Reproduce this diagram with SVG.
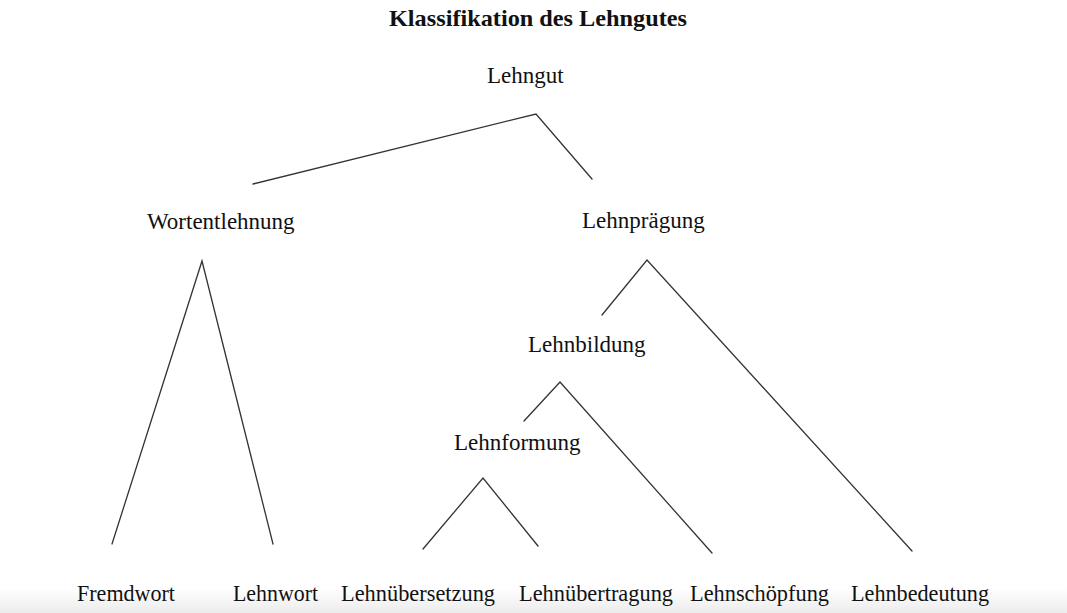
<svg xmlns="http://www.w3.org/2000/svg" width="1067" height="613" viewBox="0 0 1067 613">
<defs>
<linearGradient id="bottomShade" x1="0" y1="0" x2="0" y2="1">
<stop offset="0" stop-color="#ffffff"/>
<stop offset="1" stop-color="#ececec"/>
</linearGradient>
</defs>
<style>
text{font-family:"Liberation Serif","Times New Roman",serif;font-size:23px;fill:#111}
.title{font-weight:bold;font-size:24px}
.leaf{font-size:23.5px}
.edge{stroke:#333;stroke-width:1.3;fill:none;stroke-linecap:round}
</style>
<rect width="1067" height="613" fill="#fff"/>
<rect x="0" y="588" width="1067" height="25" fill="url(#bottomShade)"/>
<text class="title" x="389" y="26" textLength="298" lengthAdjust="spacingAndGlyphs">Klassifikation des Lehngutes</text>
<g id="connectors">
<polyline class="edge" points="253,184 536,114 592,179"/>
<polyline class="edge" points="112,544 202,261 273,544"/>
<polyline class="edge" points="602,315 647,260 912,551"/>
<polyline class="edge" points="524,421 560,382 712,553"/>
<polyline class="edge" points="423,549 483,478 538,546"/>
</g>
<g id="n-lehngut"><text x="487" y="83">Lehngut</text></g>
<g id="n-wortentlehnung"><text x="147" y="229">Wortentlehnung</text></g>
<g id="n-lehnpraegung"><text x="582" y="228">Lehnprägung</text></g>
<g id="n-lehnbildung"><text x="528" y="352">Lehnbildung</text></g>
<g id="n-lehnformung"><text x="454" y="450">Lehnformung</text></g>
<g id="n-fremdwort"><text class="leaf" x="77" y="601" textLength="98" lengthAdjust="spacingAndGlyphs">Fremdwort</text></g>
<g id="n-lehnwort"><text class="leaf" x="233" y="601" textLength="85" lengthAdjust="spacingAndGlyphs">Lehnwort</text></g>
<g id="n-lehnuebersetzung"><text class="leaf" x="341" y="601" textLength="154" lengthAdjust="spacingAndGlyphs">Lehnübersetzung</text></g>
<g id="n-lehnuebertragung"><text class="leaf" x="519" y="601" textLength="154" lengthAdjust="spacingAndGlyphs">Lehnübertragung</text></g>
<g id="n-lehnschoepfung"><text class="leaf" x="690" y="601" textLength="139" lengthAdjust="spacingAndGlyphs">Lehnschöpfung</text></g>
<g id="n-lehnbedeutung"><text class="leaf" x="851" y="601" textLength="138" lengthAdjust="spacingAndGlyphs">Lehnbedeutung</text></g>
</svg>
